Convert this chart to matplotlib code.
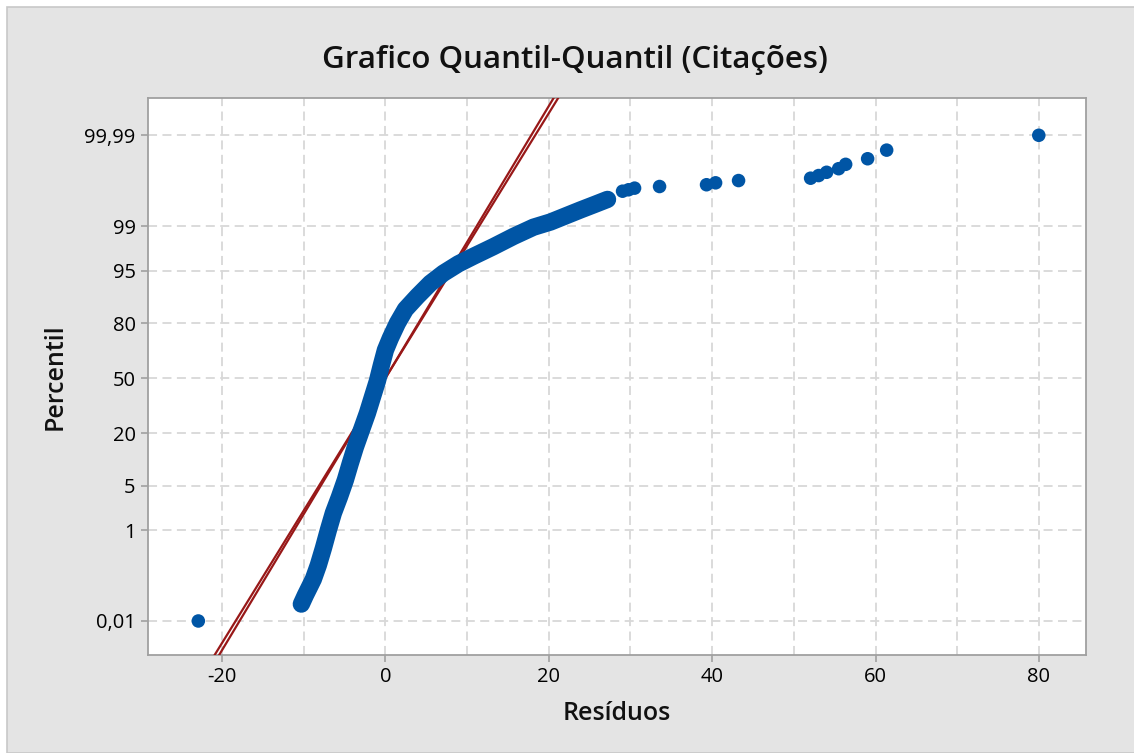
import numpy as np
import matplotlib
matplotlib.use('Agg')
import matplotlib.pyplot as plt
from matplotlib.patches import Rectangle
from matplotlib.ticker import FixedLocator, MultipleLocator
from statistics import NormalDist

plt.rcParams['font.family'] = ['Open Sans', 'DejaVu Sans']

# faixa densa de residuos
band_residuos = [-10.29, -9.80, -9.31, -8.82, -8.21, -7.59, -6.98, -6.37, -5.63, -4.90,
                 -4.29, -3.67, -2.94, -2.20, -1.59, -0.98, -0.49, 0.00, 0.61, 1.47,
                 2.45, 3.92, 5.51, 7.10, 8.94, 10.78, 13.23, 15.68, 18.13, 20.21,
                 22.05, 23.88, 25.72, 27.19]
band_percentil = [0.027, 0.044, 0.068, 0.104, 0.209, 0.46, 1.0, 1.94, 3.43, 5.94,
                  9.65, 14.6, 21.3, 29.6, 38.6, 48.2, 57.9, 66.6, 73.0, 80.0,
                  85.4, 89.5, 92.7, 94.6, 96.0, 96.9, 97.8, 98.5, 98.96, 99.16,
                  99.35, 99.50, 99.615, 99.69]

# pontos isolados nas caudas
cauda_residuos = [-22.90, 29.03, 29.76, 30.50, 33.56, 39.31, 40.42, 43.23, 52.05, 53.03,
                  54.01, 55.48, 56.34, 59.03, 61.36, 79.98]
cauda_percentil = [0.01, 99.790, 99.804, 99.819, 99.833, 99.847, 99.861, 99.876, 99.890, 99.904,
                   99.919, 99.933, 99.947, 99.961, 99.976, 99.990]

# reta ajustada (normal)
media = 0.0
desvio = [4.80, 4.93]

yticks = [0.01, 1, 5, 20, 50, 80, 95, 99, 99.99]
ytick_labels = ['0,01', '1', '5', '20', '50', '80', '95', '99', '99,99']
xticks = [-20, 0, 20, 40, 60, 80]
xtick_labels = ['-20', '0', '20', '40', '60', '80']

nd = NormalDist()
_ppf = np.vectorize(nd.inv_cdf, otypes=[float])
_cdf = np.vectorize(nd.cdf, otypes=[float])


def fwd(p):
    p = np.clip(np.asarray(p, dtype=float) / 100.0, 1e-12, 1 - 1e-12)
    return _ppf(p)


def inv(z):
    return 100.0 * _cdf(np.asarray(z, dtype=float))


fig = plt.figure(figsize=(11.34, 7.53), dpi=100)
fig.patch.set_facecolor('white')
painel = Rectangle((7 / 1134, 0), 1.0, (753 - 7) / 753, transform=fig.transFigure,
                   facecolor='#e4e4e4', edgecolor='#c8c8c8', lw=1.2, zorder=-10)
fig.add_artist(painel)

ax = fig.add_axes([148 / 1134, 1 - 655 / 753, (1086 - 148) / 1134, (655 - 98) / 753])
ax.set_facecolor('white')
ax.set_yscale('function', functions=(fwd, inv))
ax.set_xlim(-29.06, 85.76)
ax.set_ylim(inv(-4.24), inv(4.29))

azul = '#0055a5'
vermelho = '#981818'

zz = np.array([-4.6, 4.6])
for s in desvio:
    ax.plot(media + s * zz, inv(zz), color=vermelho, lw=1.6, zorder=3)

ax.plot(band_residuos, band_percentil, color=azul, lw=12.5, solid_capstyle='round', zorder=4)
ax.scatter(band_residuos, band_percentil, s=95, color=azul, edgecolors='none', zorder=4)
ax.scatter(cauda_residuos, cauda_percentil, s=95, color=azul, edgecolors='none', zorder=4)

ax.yaxis.set_major_locator(FixedLocator(yticks))
ax.set_yticklabels(ytick_labels)
ax.yaxis.set_minor_locator(FixedLocator([]))
ax.xaxis.set_major_locator(FixedLocator(xticks))
ax.set_xticklabels(xtick_labels)
ax.xaxis.set_minor_locator(MultipleLocator(10))

ax.grid(True, which='both', axis='x', color='#d8d8d8', ls=(0, (5, 3)), lw=1.3)
ax.grid(True, which='major', axis='y', color='#d8d8d8', ls=(0, (5, 3)), lw=1.3)
ax.set_axisbelow(True)

for sp in ax.spines.values():
    sp.set_color('#a0a0a0')
    sp.set_linewidth(1.3)
ax.tick_params(axis='both', which='major', length=5, width=1.2, color='#a0a0a0',
               labelsize=14.5, labelcolor='black', pad=4)
ax.tick_params(axis='both', which='minor', length=0)

ax.set_xlabel('Resíduos', fontsize=18, fontweight='semibold', color='#111111')
ax.xaxis.set_label_coords(0.5, (655 - 713) / 557)
ax.xaxis.label.set_va('center')
ax.set_ylabel('Percentil', fontsize=18, fontweight='semibold', color='#111111')
ax.yaxis.set_label_coords((55 - 148) / 938, 0.5)
ax.yaxis.label.set_va('center')

fig.text(575 / 1134, 1 - 60 / 753, 'Grafico Quantil-Quantil (Citações)', ha='center', va='center',
         fontsize=22.5, fontweight='semibold', color='#111111')

fig.savefig('out.png', dpi=100, facecolor=fig.get_facecolor())
